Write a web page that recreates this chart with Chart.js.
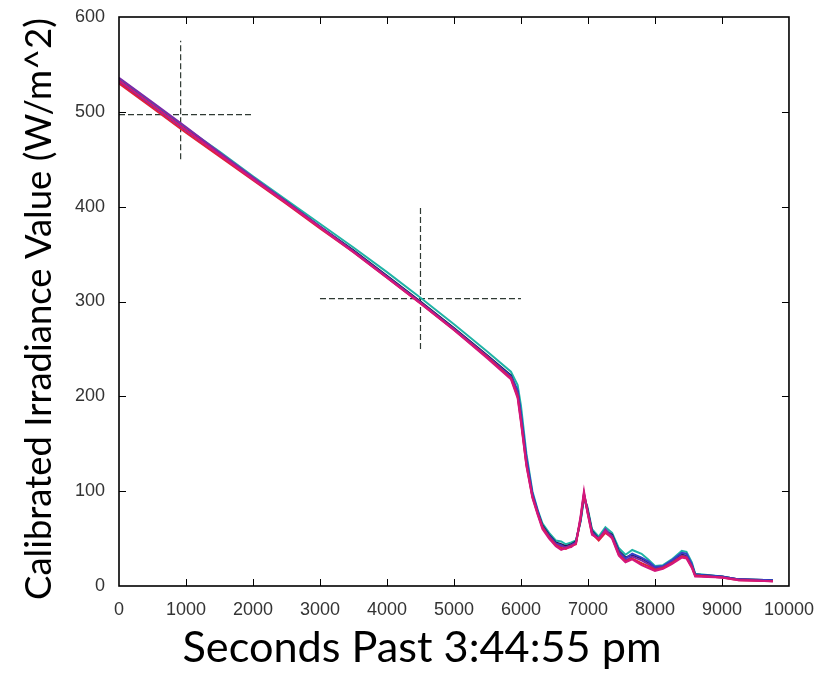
<!DOCTYPE html>
<html>
<head>
<meta charset="utf-8">
<style>
  html, body { margin: 0; padding: 0; background: #ffffff; }
  #wrap { position: relative; width: 819px; height: 684px; }
</style>
<script src="https://cdn.jsdelivr.net/npm/chart.js@4.4.1/dist/chart.umd.min.js"></script>
</head>
<body>
<div id="wrap"><canvas id="chart" width="819" height="684"></canvas></div>
<script>
// ---------- data ----------
const seconds = [0, 500, 1000, 1500, 2000, 2500, 3000, 3500, 4000, 4500, 5000, 5500, 5850, 5950, 6000, 6080, 6170, 6250, 6320, 6420, 6520, 6600, 6670, 6750, 6820, 6890, 6940, 6990, 7060, 7160, 7260, 7360, 7460, 7560, 7660, 7800, 7900, 8000, 8120, 8250, 8400, 8470, 8550, 8600, 9000, 9250, 9760];

const runMagenta = [533, 507, 481, 455, 429, 404, 378, 352, 325, 298, 270, 240, 218, 198, 172, 127, 93, 75, 60, 50, 42, 38, 40, 41, 45, 74, 100, 78, 54, 50, 58, 50, 32, 25, 28, 22, 19, 16, 18, 23, 30, 29, 19, 10, 9, 6, 5];
const runRed     = [530, 504, 478, 453, 428, 403, 377, 352, 325, 298, 270, 241, 219, 200, 174, 128, 94, 76, 62, 51, 43, 40, 39, 42, 44, 71, 97, 79, 55, 48, 56, 51, 33, 26, 29, 24, 21, 17, 19, 24, 31, 30, 20, 11, 9, 6, 5];
const runPurple  = [536, 510, 484, 457, 431, 405, 379, 353, 326, 299, 271, 242, 220, 203, 176, 130, 95, 77, 62, 52, 44, 42, 41, 43, 45, 72, 98, 81, 56, 49, 60, 52, 35, 27, 31, 27, 23, 18, 20, 25, 32, 31, 21, 11, 9, 7, 5];
const runBlue    = [531, 506, 480, 455, 429, 404, 378, 353, 326, 299, 271, 242, 221, 206, 182, 136, 98, 79, 63, 53, 45, 43, 40, 43, 46, 69, 94, 80, 57, 49, 57, 53, 36, 29, 34, 30, 26, 20, 21, 27, 35, 34, 23, 12, 10, 7, 6];
const runTeal    = [535, 509, 483, 458, 432, 407, 382, 357, 331, 304, 276, 247, 226, 212, 190, 140, 100, 80, 66, 56, 48, 47, 44, 46, 48, 68, 92, 84, 60, 52, 62, 56, 40, 33, 38, 34, 28, 21, 22, 28, 37, 36, 25, 13, 10, 7, 6];
const runNavy    = [533, 507, 481, 456, 430, 405, 379, 354, 327, 300, 272, 243, 222, 205, 178, 132, 96, 78, 64, 54, 46, 44, 42, 44, 47, 70, 96, 82, 58, 50, 58, 54, 37, 30, 33, 29, 25, 19, 20, 26, 33, 32, 22, 12, 10, 7, 6];

// crosshair markers: [centre, from, to]
const crossHorizontal = [[497, 0, 2000], [303, 3000, 6000]];   // [y, xFrom, xTo]
const crossVertical   = [[920, 450, 575], [4500, 250, 400]];   // [x, yFrom, yTo]

const xTickValues = [0, 1000, 2000, 3000, 4000, 5000, 6000, 7000, 8000, 9000, 10000];
const yTickValues = [0, 100, 200, 300, 400, 500, 600];

const xTitle = 'Seconds Past 3:44:55 pm';
const yTitle = 'Calibrated Irradiance Value (W/m^2)';

// ---------- build datasets ----------
const runs = [
  { label: 'Run 6', values: runMagenta, color: '#d4177c' },
  { label: 'Run 5', values: runRed,     color: '#e0203c' },
  { label: 'Run 4', values: runPurple,  color: '#7a2aa8' },
  { label: 'Run 3', values: runBlue,    color: '#3540c8' },
  { label: 'Run 2', values: runNavy,    color: '#1c1c4c' },
  { label: 'Run 1', values: runTeal,    color: '#1fb3a6' }
];

const datasets = runs.map(r => ({
  label: r.label,
  data: seconds.map((s, i) => ({ x: s, y: r.values[i] })),
  borderColor: r.color,
  backgroundColor: r.color,
  borderWidth: 2,
  pointRadius: 0,
  showLine: true,
  tension: 0,
  fill: false
}));

const crossStyle = { borderColor: '#2f3a33', borderWidth: 1.2, borderDash: [6, 3], pointRadius: 0, showLine: true, fill: false };
crossHorizontal.forEach((c, k) => datasets.push(Object.assign({
  label: 'crossH' + k, data: [{ x: c[1], y: c[0] }, { x: c[2], y: c[0] }]
}, crossStyle)));
crossVertical.forEach((c, k) => datasets.push(Object.assign({
  label: 'crossV' + k, data: [{ x: c[0], y: c[1] }, { x: c[0], y: c[2] }]
}, crossStyle)));

// ---------- plugins ----------
const frameTicks = {
  id: 'frameTicks',
  afterDatasetsDraw(chart) {
    const { ctx, chartArea: a, scales } = chart;
    const len = 7;
    ctx.save();
    ctx.strokeStyle = '#000';
    ctx.lineWidth = 1;
    ctx.beginPath();
    xTickValues.forEach(v => {
      const px = Math.round(scales.x.getPixelForValue(v)) + 0.5;
      if (px <= a.left + 1 || px >= a.right - 1) return;
      ctx.moveTo(px, a.bottom); ctx.lineTo(px, a.bottom - len);
      ctx.moveTo(px, a.top); ctx.lineTo(px, a.top + len);
    });
    yTickValues.forEach(v => {
      const py = Math.round(scales.y.getPixelForValue(v)) + 0.5;
      if (py <= a.top + 1 || py >= a.bottom - 1) return;
      ctx.moveTo(a.left, py); ctx.lineTo(a.left + len, py);
      ctx.moveTo(a.right, py); ctx.lineTo(a.right - len, py);
    });
    ctx.stroke();
    ctx.lineWidth = 1.6;
    ctx.strokeRect(a.left, a.top, a.right - a.left, a.bottom - a.top);
    ctx.restore();
  }
};

function fitFont(ctx, text, family, targetWidth) {
  ctx.font = '40px ' + family;
  const w = ctx.measureText(text).width;
  return 40 * targetWidth / w;
}

const axisTitles = {
  id: 'axisTitles',
  afterDraw(chart) {
    const ctx = chart.ctx;
    const fam = 'Lato, "Open Sans", sans-serif';
    ctx.save();
    ctx.fillStyle = '#000';
    // x title
    let fs = fitFont(ctx, xTitle, fam, 479);
    ctx.font = fs.toFixed(2) + 'px ' + fam;
    ctx.textAlign = 'center';
    ctx.textBaseline = 'alphabetic';
    ctx.fillText(xTitle, 422, 662);
    // y title
    fs = fitFont(ctx, yTitle, fam, 582);
    ctx.font = fs.toFixed(2) + 'px ' + fam;
    ctx.translate(51, 309);
    ctx.rotate(-Math.PI / 2);
    ctx.fillText(yTitle, 0, 0);
    ctx.restore();
  }
};

// ---------- chart ----------
const tickFont = { family: '"Liberation Sans", Arial, sans-serif', size: 18 };

new Chart(document.getElementById('chart'), {
  type: 'scatter',
  data: { datasets },
  options: {
    responsive: false,
    animation: false,
    devicePixelRatio: 1,
    layout: { padding: { top: 17, right: 27, left: 0, bottom: 0 } },
    plugins: { legend: { display: false }, tooltip: { enabled: false } },
    scales: {
      x: {
        type: 'linear', min: 0, max: 10000,
        grid: { display: false },
        border: { display: false },
        afterBuildTicks: s => { s.ticks = xTickValues.map(v => ({ value: v })); },
        afterFit: s => { s.height = 98; },
        ticks: { font: tickFont, color: '#333', padding: 5, maxRotation: 0, autoSkip: false, callback: v => String(v) }
      },
      y: {
        type: 'linear', min: 0, max: 600,
        grid: { display: false },
        border: { display: false },
        afterBuildTicks: s => { s.ticks = yTickValues.map(v => ({ value: v })); },
        afterFit: s => { s.width = 119; },
        ticks: { font: tickFont, color: '#333', padding: 6, autoSkip: false, callback: v => String(v) }
      }
    }
  },
  plugins: [frameTicks, axisTitles]
});
</script>
</body>
</html>
